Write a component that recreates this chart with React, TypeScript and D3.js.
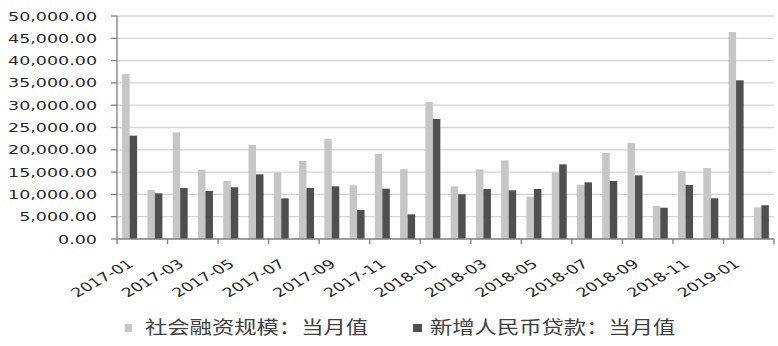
import React from "react";
import * as d3 from "d3";

const months = [
  "2017-01","2017-02","2017-03","2017-04","2017-05","2017-06","2017-07","2017-08","2017-09","2017-10","2017-11","2017-12",
  "2018-01","2018-02","2018-03","2018-04","2018-05","2018-06","2018-07","2018-08","2018-09","2018-10","2018-11","2018-12",
  "2019-01","2019-02",
];
const tsf = [
  37000, 11000, 23900, 15540, 13000, 21070, 14950, 17490, 22420, 12040, 19060, 15620,
  30700, 11810, 15620, 17640, 9490, 14950, 12100, 19280, 21520, 7400, 15180, 15920,
  46400, 7100,
];
const loans = [
  23170, 10240, 11430, 10760, 11590, 14500, 9120, 11430, 11810, 6500, 11280, 5530,
  26900, 10020, 11210, 10910, 11210, 16740, 12700, 13000, 14280, 7020, 12100, 9120,
  35580, 7560,
];
const yTicks = [0, 5000, 10000, 15000, 20000, 25000, 30000, 35000, 40000, 45000, 50000];
const seriesNames = ["社会融资规模：当月值", "新增人民币贷款：当月值"];

const LIGHT = "#c6c6c6";
const DARK = "#4f4f4f";
const SX = 1.4;

export default function App() {
  const W = 778, H = 346;
  const left = 117, right = 774, top = 16, bottom = 239;
  const x = d3.scaleBand<string>().domain(months).range([left, right]).paddingInner(0).paddingOuter(0);
  const inner = d3.scaleBand<string>().domain(["a", "b"]).range([0, 15]);
  const y = d3.scaleLinear().domain([0, 50000]).range([bottom, top]);
  const fmt = d3.format(",.2f");
  const bw = x.bandwidth();
  const off = (bw - 15) / 2;
  const font = "Verdana, 'DejaVu Sans', sans-serif";

  return (
    <svg width={W} height={H} style={{ position: "absolute", left: 0, top: 0, background: "#fff" }}>
      {yTicks.filter((t) => t > 0).map((t) => (
        <line key={"g" + t} x1={left} x2={right} y1={y(t)} y2={y(t)} stroke="#d4d4d4" strokeWidth={1.3} />
      ))}
      {months.map((m, i) => (
        <g key={m}>
          <rect x={x(m)! + off + inner("a")!} y={y(tsf[i])} width={inner.bandwidth()} height={bottom - y(tsf[i])} fill={LIGHT} />
          <rect x={x(m)! + off + inner("b")!} y={y(loans[i])} width={inner.bandwidth()} height={bottom - y(loans[i])} fill={DARK} />
        </g>
      ))}
      <line x1={left} x2={left} y1={top} y2={bottom} stroke="#7f7f7f" strokeWidth={1.3} />
      {yTicks.map((t) => (
        <g key={"yt" + t}>
          <line x1={left - 6} x2={left} y1={y(t)} y2={y(t)} stroke="#7f7f7f" strokeWidth={1.3} />
          <g transform={`translate(97,${y(t)}) scale(${SX},1)`}>
            <text textAnchor="end" dy="0.36em" fontFamily={font} fontSize={12.5} fill="#262626">
              {fmt(t)}
            </text>
          </g>
        </g>
      ))}
      <line x1={left} x2={right} y1={bottom} y2={bottom} stroke="#7f7f7f" strokeWidth={1.3} />
      {months.map((m, i) =>
        i % 2 === 0 ? (
          <line key={"xt" + m} x1={x(m)!} x2={x(m)!} y1={bottom} y2={bottom + 5} stroke="#7f7f7f" strokeWidth={1.3} />
        ) : null
      )}
      <line x1={right} x2={right} y1={bottom} y2={bottom + 5} stroke="#7f7f7f" strokeWidth={1.3} />
      {months.map((m, i) =>
        i % 2 === 0 ? (
          <g key={"xl" + m} transform={`translate(${x(m)! + bw / 2 + 1},262) scale(${SX},1) rotate(-38)`}>
            <text textAnchor="end" dy="0.36em" fontFamily={font} fontSize={12.5} fill="#262626">
              {m}
            </text>
          </g>
        ) : null
      )}
      <rect x={125} y={324} width={7} height={8} fill={LIGHT} />
      <g transform={`translate(145,328) scale(1.24,1)`}>
        <text dy="0.36em" fontFamily="'Noto Sans CJK SC', sans-serif" fontSize={18} fill="#404040">
          {seriesNames[0]}
        </text>
      </g>
      <rect x={413} y={324} width={9} height={8} fill={DARK} />
      <g transform={`translate(430,328) scale(1.24,1)`}>
        <text dy="0.36em" fontFamily="'Noto Sans CJK SC', sans-serif" fontSize={18} fill="#404040">
          {seriesNames[1]}
        </text>
      </g>
    </svg>
  );
}
